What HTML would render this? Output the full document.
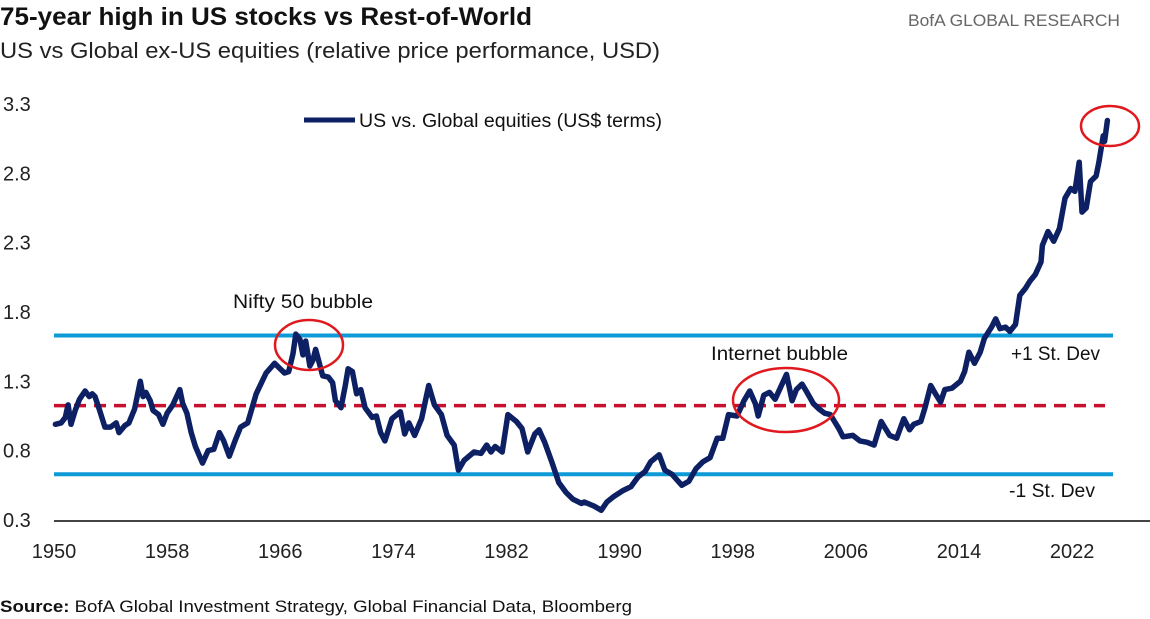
<!DOCTYPE html>
<html><head><meta charset="utf-8"><style>
html,body{margin:0;padding:0;background:#fff;width:1150px;height:619px;overflow:hidden}
svg{display:block;font-family:"Liberation Sans",sans-serif}
</style></head><body>
<svg id="chart" width="1150" height="619" viewBox="0 0 1150 619" xmlns="http://www.w3.org/2000/svg">
<text x="0" y="25" font-size="25" font-weight="bold" fill="#111" textLength="532" lengthAdjust="spacingAndGlyphs">75-year high in US stocks vs Rest-of-World</text>
<text x="0" y="58" font-size="22" fill="#222" textLength="660" lengthAdjust="spacingAndGlyphs">US vs Global ex-US equities (relative price performance, USD)</text>
<text x="1120" y="26" font-size="17" fill="#666" text-anchor="end" textLength="212" lengthAdjust="spacingAndGlyphs">BofA GLOBAL RESEARCH</text>
<g id="grid"></g>
<text x="0" y="612" font-size="17" fill="#111" textLength="632" lengthAdjust="spacingAndGlyphs"><tspan font-weight="bold">Source:</tspan> BofA Global Investment Strategy, Global Financial Data, Bloomberg</text>
</svg>
<script>
const years=[1950.1,1950.5,1950.8,1951.0,1951.2,1951.5,1951.8,1952.2,1952.5,1952.7,1952.9,1953.2,1953.6,1954.0,1954.4,1954.6,1955.0,1955.3,1955.7,1956.1,1956.3,1956.5,1956.8,1957.0,1957.4,1957.7,1958.0,1958.4,1958.9,1959.1,1959.4,1959.7,1960.0,1960.5,1960.9,1961.3,1961.7,1962.0,1962.4,1962.8,1963.2,1963.7,1964.3,1965.0,1965.6,1966.0,1966.3,1966.6,1966.9,1967.1,1967.4,1967.6,1967.8,1968.1,1968.3,1968.5,1969.0,1969.4,1969.7,1969.9,1970.3,1970.6,1970.8,1971.1,1971.4,1971.7,1972.0,1972.5,1972.8,1973.1,1973.4,1973.9,1974.5,1974.8,1975.1,1975.5,1976.0,1976.5,1976.9,1977.4,1977.8,1978.3,1978.6,1979.0,1979.7,1980.2,1980.6,1980.9,1981.2,1981.7,1982.1,1982.7,1983.1,1983.5,1984.0,1984.3,1984.7,1985.2,1985.7,1986.2,1986.7,1987.3,1987.5,1988.2,1988.7,1989.1,1989.6,1990.2,1990.8,1991.3,1991.8,1992.2,1992.8,1993.2,1993.7,1994.4,1994.9,1995.4,1995.9,1996.4,1996.9,1997.3,1997.7,1998.3,1998.8,1999.2,1999.6,1999.8,2000.2,2000.6,2001.0,2001.4,2001.8,2002.2,2002.5,2002.9,2003.2,2003.7,2004.1,2004.5,2004.9,2005.2,2005.5,2005.8,2006.5,2007.0,2007.5,2008.0,2008.5,2008.8,2009.1,2009.6,2010.1,2010.5,2010.8,2011.3,2011.6,2012.0,2012.4,2012.7,2013.0,2013.5,2014.1,2014.4,2014.7,2015.1,2015.5,2015.8,2016.3,2016.6,2016.9,2017.3,2017.6,2018.0,2018.3,2018.7,2019.0,2019.4,2019.8,2019.9,2020.3,2020.7,2021.1,2021.5,2021.9,2022.2,2022.5,2022.7,2023.0,2023.3,2023.7,2023.9,2024.2,2024.3,2024.5];
const values=[0.99,1.00,1.04,1.13,0.99,1.09,1.17,1.23,1.19,1.21,1.19,1.10,0.97,0.97,1.00,0.93,0.98,1.00,1.10,1.30,1.19,1.22,1.16,1.09,1.06,0.99,1.07,1.13,1.24,1.14,1.07,0.93,0.83,0.71,0.80,0.81,0.93,0.87,0.76,0.87,0.97,1.00,1.21,1.36,1.43,1.39,1.36,1.37,1.50,1.64,1.60,1.49,1.59,1.41,1.45,1.53,1.34,1.33,1.29,1.16,1.11,1.27,1.39,1.37,1.21,1.24,1.11,1.04,1.05,0.93,0.87,1.03,1.08,0.92,1.00,0.91,1.03,1.27,1.13,1.06,0.91,0.84,0.66,0.73,0.79,0.78,0.84,0.79,0.83,0.79,1.06,1.01,0.96,0.79,0.92,0.95,0.86,0.72,0.57,0.50,0.45,0.42,0.43,0.40,0.37,0.43,0.47,0.51,0.54,0.61,0.65,0.72,0.77,0.66,0.63,0.55,0.58,0.67,0.72,0.75,0.89,0.89,1.06,1.05,1.16,1.23,1.14,1.05,1.20,1.22,1.17,1.26,1.35,1.16,1.24,1.28,1.23,1.14,1.10,1.07,1.06,1.01,0.96,0.90,0.91,0.87,0.86,0.84,1.01,0.96,0.91,0.89,1.03,0.95,0.99,1.01,1.11,1.27,1.20,1.15,1.24,1.25,1.30,1.37,1.51,1.43,1.51,1.61,1.69,1.75,1.68,1.69,1.66,1.71,1.92,1.97,2.02,2.07,2.16,2.28,2.38,2.31,2.40,2.62,2.69,2.67,2.88,2.52,2.55,2.74,2.78,2.88,3.07,3.03,3.18];
const yTicks=[0.3,0.8,1.3,1.8,2.3,2.8,3.3];
const xTicks=[1950,1958,1966,1974,1982,1990,1998,2006,2014,2022];
const plusSD=[1.63];
const meanVal=[1.125];
const minusSD=[0.63];

const NS='http://www.w3.org/2000/svg';
const g=document.getElementById('grid');
const X=y=>54+(y-1950)*14.14;
const Y=v=>520-(v-0.3)*138.7;
function mk(tag,attrs,parent){const e=document.createElementNS(NS,tag);for(const k in attrs)e.setAttribute(k,attrs[k]);(parent||g).appendChild(e);return e;}

yTicks.forEach(t=>{
  const e=mk('text',{x:3,y:Y(t)+7,'font-size':20,fill:'#222'});
  
  
  e.textContent=t.toFixed(1);
});
xTicks.forEach(t=>{
  const e=mk('text',{x:X(t),y:558,'font-size':20,fill:'#222','text-anchor':'middle'});
  
  
  e.textContent=t;
});
const ax=mk('line',{x1:54,x2:1150,y1:521,y2:521,stroke:'#444','stroke-width':2});



const l1=mk('line',{x1:54,x2:1113,y1:Y(plusSD[0]),y2:Y(plusSD[0]),stroke:'#0e9ad7','stroke-width':4});


const l2=mk('line',{x1:54,x2:1113,y1:Y(minusSD[0]),y2:Y(minusSD[0]),stroke:'#0e9ad7','stroke-width':4});


const l3=mk('line',{x1:54,x2:1105,y1:Y(meanVal[0]),y2:Y(meanVal[0]),stroke:'#c8102e','stroke-width':3.5,'stroke-dasharray':'12 8'});



const pts=years.map((y,i)=>X(y).toFixed(1)+','+Y(values[i]).toFixed(1)).join(' ');
const s=mk('polyline',{points:pts,fill:'none',stroke:'#0c2063','stroke-width':5.5,'stroke-linejoin':'round','stroke-linecap':'round'});



[[309,345,34,25,'nifty-circle'],[786,400,53,32,'internet-circle'],[1110,126,29,20,'latest-circle']].forEach(c=>{
  const e=mk('ellipse',{cx:c[0],cy:c[1],rx:c[2],ry:c[3],fill:'none',stroke:'#e0191f','stroke-width':2.5});
  
  
});

const labels=[[233,308,140,'Nifty 50 bubble','nifty-label'],[711,360,137,'Internet bubble','internet-label'],[1011,360,89,'+1 St. Dev','plus-sd-label'],[1009,497,86,'-1 St. Dev','minus-sd-label']];
labels.forEach(a=>{
  const e=mk('text',{x:a[0],y:a[1],'font-size':19,fill:'#111',textLength:a[2],lengthAdjust:'spacingAndGlyphs'});
  
  
  e.textContent=a[3];
});

const lg=mk('line',{x1:304,x2:355,y1:120,y2:120,stroke:'#0c2063','stroke-width':5});


const lt=mk('text',{x:359,y:127,'font-size':19,fill:'#111',textLength:303,lengthAdjust:'spacingAndGlyphs'});


lt.textContent='US vs. Global equities (US$ terms)';
</script>
</body></html>
